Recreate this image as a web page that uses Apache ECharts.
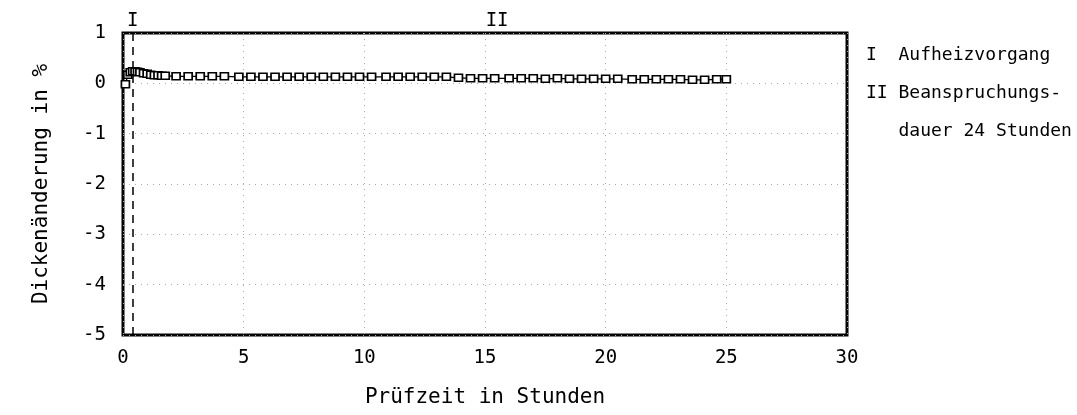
<!DOCTYPE html>
<html>
<head>
<meta charset="utf-8">
<script src="https://cdn.jsdelivr.net/npm/echarts@6/dist/echarts.min.js"></script>
<style>
  html, body { margin: 0; padding: 0; background: #fff; }
  #chart { width: 1077px; height: 415px; }
</style>
</head>
<body>
<div id="chart"></div>
<script>
// Prüfzeit in Stunden
var zeit = [0.1, 0.2, 0.3, 0.4, 0.5, 0.6, 0.7, 0.85, 1.0, 1.15, 1.3, 1.45, 1.6, 1.75,
  2.2, 2.7, 3.2, 3.7, 4.2, 4.8, 5.3, 5.8, 6.3, 6.8, 7.3, 7.8, 8.3, 8.8, 9.3, 9.8, 10.3,
  10.9, 11.4, 11.9, 12.4, 12.9, 13.4, 13.9, 14.4, 14.9, 15.4, 16.0, 16.5, 17.0, 17.5,
  18.0, 18.5, 19.0, 19.5, 20.0, 20.5, 21.1, 21.6, 22.1, 22.6, 23.1, 23.6, 24.1, 24.6, 25.0];
// Dickenänderung in %
var dicke = [-0.02, 0.17, 0.22, 0.24, 0.24, 0.23, 0.22, 0.2, 0.19, 0.17, 0.16, 0.16, 0.15, 0.15,
  0.14, 0.14, 0.14, 0.14, 0.14, 0.13, 0.13, 0.13, 0.13, 0.13, 0.13, 0.13, 0.13, 0.13, 0.13, 0.13, 0.13,
  0.13, 0.13, 0.13, 0.13, 0.13, 0.13, 0.11, 0.1, 0.1, 0.1, 0.1, 0.1, 0.1, 0.09,
  0.1, 0.09, 0.09, 0.09, 0.09, 0.09, 0.08, 0.08, 0.08, 0.08, 0.08, 0.07, 0.07, 0.08, 0.08];
var phasen = [['I', 0.4], ['II', 15.5]];
var legende = 'I  Aufheizvorgang\nII Beanspruchungs-\n   dauer 24 Stunden';

var font = 'DejaVu Sans Mono';
var chart = echarts.init(document.getElementById('chart'));

var punkte = [];
zeit.forEach(function (x, i) {
  punkte.push([x, dicke[i]]);
});

var option = {
  backgroundColor: '#fff',
  animation: false,
  grid: {
    left: 123, right: 230, top: 33, bottom: 80,
    show: true, borderColor: '#000', borderWidth: 3
  },
  xAxis: {
    type: 'value', min: 0, max: 30, interval: 5,
    name: 'Prüfzeit in Stunden', nameLocation: 'middle', nameGap: 52,
    nameTextStyle: { fontFamily: font, fontSize: 21, color: '#000' },
    axisLine: { show: false },
    axisTick: { show: false },
    axisLabel: { fontFamily: font, fontSize: 19, color: '#000', margin: 14 },
    splitLine: { show: true, lineStyle: { color: '#aaa', type: [1, 5], width: 1 } }
  },
  yAxis: {
    type: 'value', min: -5, max: 1, interval: 1,
    name: 'Dickenänderung in %', nameLocation: 'middle', nameGap: 71,
    nameTextStyle: { fontFamily: font, fontSize: 21, color: '#000' },
    axisLine: { show: false },
    axisTick: { show: false },
    axisLabel: { fontFamily: font, fontSize: 19, color: '#000', margin: 17 },
    splitLine: { show: true, lineStyle: { color: '#aaa', type: [1, 5], width: 1 } }
  },
  graphic: [{
    type: 'text', left: 866, top: 36,
    style: { text: legende, fontFamily: font, fontSize: 18, fill: '#000', lineHeight: 38 }
  }],
  series: [{
    type: 'line',
    data: punkte,
    symbol: 'rect',
    symbolSize: [8, 7],
    lineStyle: { color: '#000', width: 1.3 },
    itemStyle: { color: '#fff', borderColor: '#000', borderWidth: 1.6 },
    markLine: {
      silent: true,
      symbol: 'none',
      label: { position: 'end', fontFamily: font, fontSize: 19, color: '#000', distance: 2 },
      data: phasen.map(function (p, i) {
        return {
          xAxis: p[1],
          label: { formatter: p[0] },
          lineStyle: { color: i === 0 ? '#000' : 'rgba(0,0,0,0)', type: [8, 6], width: 1.5 }
        };
      })
    }
  }]
};
chart.setOption(option);
</script>
</body>
</html>
